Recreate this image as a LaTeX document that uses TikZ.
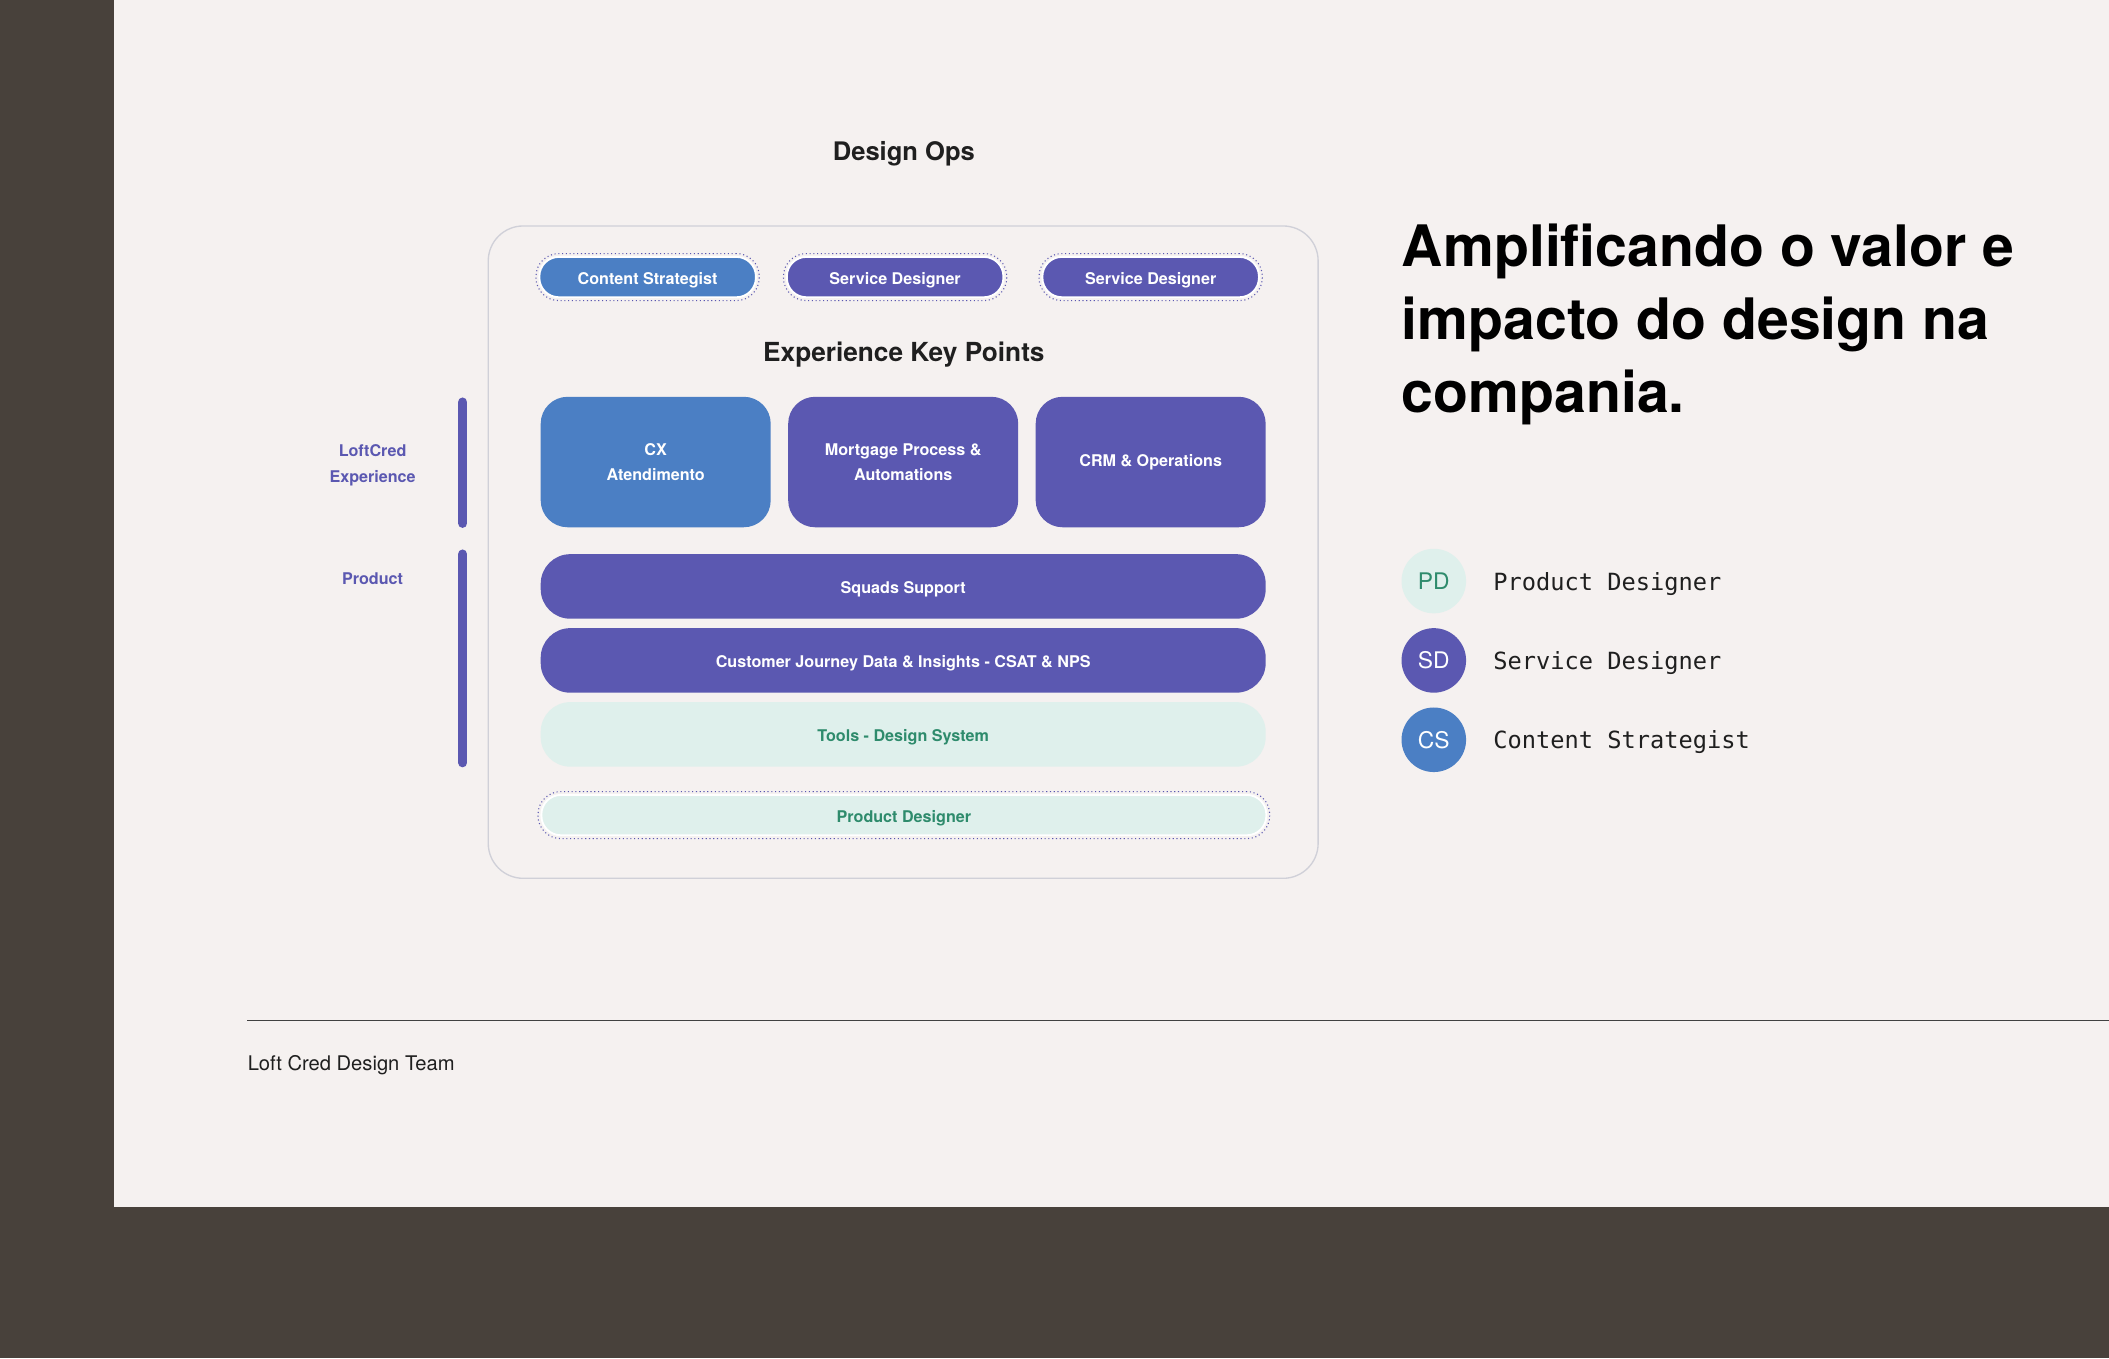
\documentclass[tikz,border=0pt]{standalone}
\usepackage{fontspec}
\setmainfont{TeX Gyre Heros}
\newfontfamily\legendmono{DejaVu Sans Mono}
\usetikzlibrary{positioning}

\definecolor{bgdark}{HTML}{48413B}
\definecolor{paper}{HTML}{F5F1F0}
\definecolor{cxblue}{HTML}{4B7FC4}
\definecolor{opspurple}{HTML}{5B58B1}
\definecolor{mint}{HTML}{DFF0EC}
\definecolor{mintink}{HTML}{2E8B6C}
\definecolor{framegray}{HTML}{D0D0D8}
\definecolor{inkdark}{HTML}{1F1F1F}

\tikzset{
	pill/.style={rounded corners=14.5pt, draw=white, line width=1.4pt, minimum width=161pt, minimum height=30pt, inner sep=0pt, text height=10.5pt, text depth=0pt, text=white, font=\fontsize{12}{15}\selectfont\bfseries},
	pillring/.style={rounded corners=17pt, draw=opspurple, dotted, line width=0.8pt, minimum width=166pt, minimum height=35pt, inner sep=0pt},
	keybox/.style={rounded corners=20pt, minimum width=171pt, minimum height=97pt, inner sep=0pt, text=white, align=center, font=\fontsize{12}{19}\selectfont\bfseries},
	band/.style={rounded corners=22pt, minimum width=539pt, minimum height=48pt, inner sep=0pt, text height=10.5pt, text depth=0pt, font=\fontsize{12}{15}\selectfont\bfseries},
	sidebar/.style={opspurple, line width=7pt, line cap=round},
	sidelabel/.style={text=opspurple, align=center, font=\fontsize{12}{19}\selectfont\bfseries},
	headline/.style={anchor=base west, inner sep=0pt, text=black, font=\fontsize{42.5}{54}\selectfont\bfseries},
	badge/.style={circle, minimum size=48pt, inner sep=0pt, font=\fontsize{17}{20}\selectfont},
	badgelabel/.style={anchor=west, inner sep=0pt, text=inkdark, font=\legendmono\fontsize{17.6}{20}\selectfont},
	textnudge/.style={yshift=-2pt},
}

\begin{document}
\begin{tikzpicture}[x=1pt, y=-1pt]
	% backdrop and page
	\fill[bgdark] (0,0) rectangle (1568,1010);
	\fill[paper] (85,0) rectangle (1568,897);
	\useasboundingbox (0,0) rectangle (1568,1010);

	% Design Ops frame
	\node[text=inkdark, font=\fontsize{19}{22}\selectfont\bfseries] (designops) at (672,114) {Design Ops};
	\node[draw=framegray, line width=1pt, rounded corners=26pt, minimum width=617pt, minimum height=485pt] (opsframe) at (671.5,410.5) {};

	% role pills
	\node[pillring] (csring) at (481.5,206) {};
	\node[pill, fill=cxblue] (cspill) at (481.5,206) {Content Strategist};
	\node[pillring] (sdringA) at (665.5,206) {};
	\node[pill, fill=opspurple] (sdpillA) at (665.5,206) {Service Designer};
	\node[pillring] (sdringB) at (855.5,206) {};
	\node[pill, fill=opspurple] (sdpillB) at (855.5,206) {Service Designer};

	\node[text=inkdark, font=\fontsize{19.5}{22}\selectfont\bfseries] (keypoints) at (672,263.5) {Experience Key Points};

	% key points
	\node[keybox, fill=cxblue] (cxbox) at (487.5,343.5) {CX\\Atendimento};
	\node[keybox, fill=opspurple] (mortgagebox) at (671.5,343.5) {Mortgage Process \&\\Automations};
	\node[keybox, fill=opspurple] (crmbox) at (855.5,343.5) {CRM \& Operations};

	% product bands
	\node[band, fill=opspurple, text=white] (squadsband) at (671.5,436) {Squads Support};
	\node[band, fill=opspurple, text=white] (journeyband) at (671.5,491) {Customer Journey Data \& Insights - CSAT \& NPS};
	\node[band, fill=mint, text=mintink] (toolsband) at (671.5,546) {Tools - Design System};
	\node[pillring, minimum width=544pt] (pdring) at (672,606) {};
	\node[pill, fill=mint, text=mintink, minimum width=539pt] (pdband) at (672,606) {Product Designer};

	% side labels
	\node[sidelabel, textnudge] (loftlabel) at (277,344) {LoftCred\\Experience};
	\node[sidelabel, textnudge] (productlabel) at (277,428) {Product};
	\draw[sidebar] (344,299) -- (344,389);
	\draw[sidebar] (344,412) -- (344,567);

	% headline
	\node[headline] (headA) at (1042,198.5) {Amplificando o valor e};
	\node[headline] (headB) at (1042,252.5) {impacto do design na};
	\node[headline] (headC) at (1042,306.5) {compania.};

	% legend
	\node[badge, fill=mint, text=mintink] (pdbadge) at (1066,432) {PD};
	\node[badge, fill=opspurple, text=white] (sdbadge) at (1066,491) {SD};
	\node[badge, fill=cxblue, text=white] (csbadge) at (1066,550) {CS};
	\node[badgelabel, textnudge] (pdlabel) at (1110,432) {Product Designer};
	\node[badgelabel, textnudge] (sdlabel) at (1110,491) {Service Designer};
	\node[badgelabel, textnudge] (cslabel) at (1110,550) {Content Strategist};

	% footer
	\draw[inkdark!85, line width=0.9pt] (184,759) -- (1568,759);
	\node[anchor=west, inner sep=0pt, text=inkdark, font=\fontsize{15}{18}\selectfont] (footer) at (184,792) {Loft Cred Design Team};
\end{tikzpicture}
\end{document}
